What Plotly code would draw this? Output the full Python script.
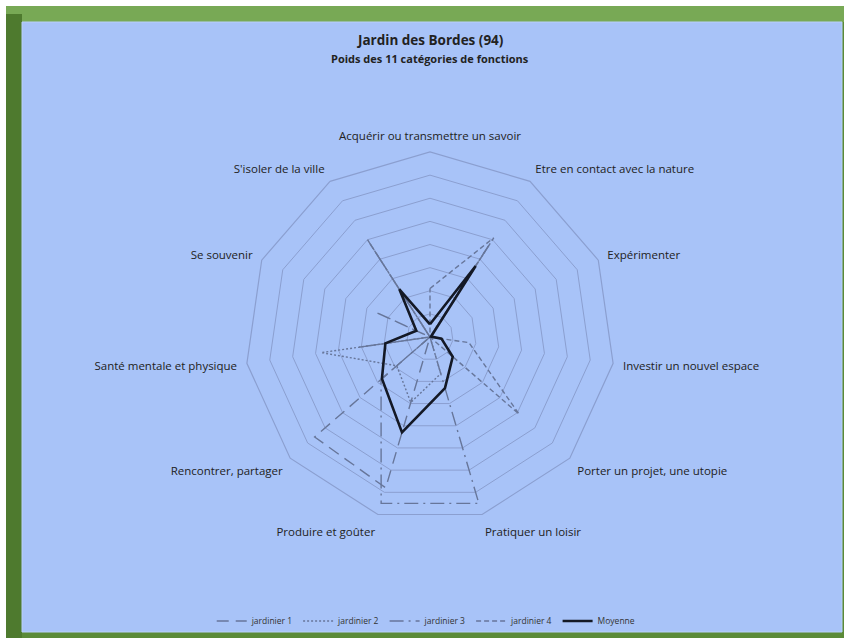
import plotly.graph_objects as go

# Axis categories, clockwise from the top
categories = [
    "Acquérir ou transmettre un savoir",
    "Etre en contact avec la nature",
    "Expérimenter",
    "Investir un nouvel espace",
    "Porter un projet, une utopie",
    "Pratiquer un loisir",
    "Produire et goûter",
    "Rencontrer, partager",
    "Santé mentale et physique",
    "Se souvenir",
    "S'isoler de la ville",
]

jardinier_1 = [0.0, 4.8, 0.0, 0.0, 0.0, 0.0, 6.8, 6.6, 0.0, 2.6, 0.0]
jardinier_2 = [0.0, 4.7, 0.0, 0.3, 0.0, 1.65, 2.95, 1.9, 4.75, 0.0, 4.8]
jardinier_3 = [0.0, 0.0, 0.0, 0.0, 0.0, 7.5, 7.5, 2.8, 0.0, 0.0, 5.0]
jardinier_4 = [2.1, 5.1, 0.0, 1.7, 5.1, 0.0, 0.0, 0.0, 3.1, 0.0, 0.0]
moyenne = [0.55, 3.65, 0.05, 0.5, 1.3, 2.3, 4.3, 2.75, 1.95, 0.65, 2.45]

series_names = ["jardinier 1", "jardinier 2", "jardinier 3", "jardinier 4", "Moyenne"]
series_values = [jardinier_1, jardinier_2, jardinier_3, jardinier_4, moyenne]
series_dash = ["12px,7px", "2px,2px", "14px,5px,2px,5px", "5px,3px", "solid"]
series_width = [1.4, 1.4, 1.4, 1.4, 2.6]
series_color = ["#67769a", "#67769a", "#67769a", "#67769a", "#141926"]

W, H = 844, 638
cx, cy, R = 430, 337, 185

fig = go.Figure()
for name, vals, dash, w, col in zip(series_names, series_values, series_dash,
                                    series_width, series_color):
    fig.add_trace(go.Scatterpolar(
        r=vals + vals[:1],
        theta=categories + categories[:1],
        mode="lines",
        name=name,
        line=dict(color=col, width=w, dash=dash),
        hoverinfo="skip",
    ))

grid_col = "#8b9fd0"

fig.update_layout(
    width=W, height=H,
    margin=dict(l=0, r=0, t=0, b=0),
    paper_bgcolor="white",
    plot_bgcolor="rgba(0,0,0,0)",
    font=dict(family="Open Sans, Noto Sans, sans-serif", color="#222222"),
    polar=dict(
        domain=dict(x=[(cx - R) / W, (cx + R) / W],
                    y=[1 - (cy + R) / H, 1 - (cy - R) / H]),
        bgcolor="rgba(0,0,0,0)",
        gridshape="linear",
        radialaxis=dict(range=[0, 8], dtick=1, showticklabels=False,
                        ticks="", showline=False, gridcolor=grid_col,
                        gridwidth=1.2, angle=90),
        angularaxis=dict(rotation=90, direction="clockwise",
                         showgrid=False, showline=True, linecolor=grid_col,
                         linewidth=1.2, ticks="outside", ticklen=7,
                         tickcolor="rgba(0,0,0,0)",
                         tickfont=dict(size=11.5, color="#222222")),
    ),
    showlegend=True,
    legend=dict(orientation="h", x=0.505, xanchor="center", y=1 - 621 / H,
                yanchor="middle", bgcolor="rgba(0,0,0,0)",
                font=dict(size=8.5, color="#333333"),
                itemwidth=30, tracegroupgap=0),
    shapes=[
        # green frame
        dict(type="rect", xref="paper", yref="paper", layer="below",
             x0=6 / W, x1=1, y0=0, y1=1 - 6 / H,
             fillcolor="#5b8a38", line=dict(width=0)),
        # lighter top bevel
        dict(type="rect", xref="paper", yref="paper", layer="below",
             x0=6 / W, x1=1, y0=1 - 22 / H, y1=1 - 6 / H,
             fillcolor="#78a955", line=dict(width=0)),
        # darker left bevel
        dict(type="rect", xref="paper", yref="paper", layer="below",
             x0=6 / W, x1=22 / W, y0=0, y1=1 - 14 / H,
             fillcolor="#4e7a2e", line=dict(width=0)),
        # chart area
        dict(type="rect", xref="paper", yref="paper", layer="below",
             x0=22 / W, x1=842 / W, y0=6 / H, y1=1 - 22 / H,
             fillcolor="#a8c3f8", line=dict(color="#b9d0fa", width=1)),
    ],
    annotations=[
        dict(text="<b>Jardin des Bordes (94)</b>", x=430 / W, y=1 - 40 / H,
             xref="paper", yref="paper", showarrow=False, yanchor="middle",
             font=dict(size=13.5, color="#222222")),
        dict(text="<b>Poids des 11 catégories de fonctions</b>", x=430 / W,
             y=1 - 58 / H, xref="paper", yref="paper", showarrow=False,
             yanchor="middle", font=dict(size=11, color="#222222")),
    ],
)

fig.write_html("out.html")
